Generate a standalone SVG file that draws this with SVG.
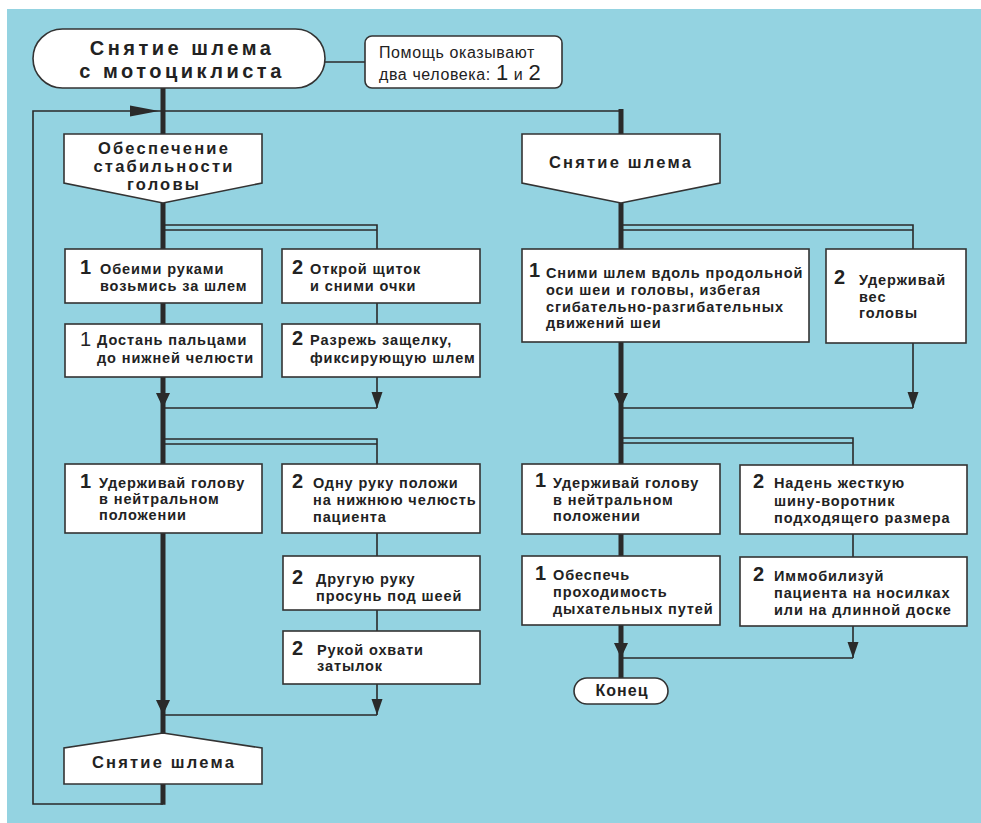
<svg xmlns="http://www.w3.org/2000/svg" xmlns:xlink="http://www.w3.org/1999/xlink" width="981" height="823" viewBox="0 0 981 823">
<defs>
<style>
.bg{fill:#94d3e1}
.box{fill:#fff;stroke:#333;stroke-width:1.6}
.thick{stroke:#2a2a2a;stroke-width:5;fill:none}
.thin{stroke:#2a2a2a;stroke-width:1.6;fill:none}
.ah{fill:#2a2a2a}
text{font-family:"Liberation Sans",Arial,sans-serif;fill:#222}
.t{font-size:14.5px;font-weight:bold;letter-spacing:0.9px}
.n{font-size:20px;font-weight:bold}
.nr{font-size:20px;font-weight:normal}
.h{font-size:16.5px;font-weight:bold;letter-spacing:2.2px;text-anchor:middle}
.ttl{font-size:20px;font-weight:bold;letter-spacing:3.5px;text-anchor:middle}
.note{font-size:16px;font-weight:normal;letter-spacing:0.6px}
.noteb{font-size:22px;font-weight:normal}
</style>
<path id="at" d="M-7,-15 L7,-15 L0,0 Z"/>
<path id="an" d="M-5.5,-16 L5.5,-16 L0,0 Z"/>
</defs>
<rect class="bg" x="7" y="9" width="974" height="814"/>

<g id="connectors">
<path class="thin" d="M163,804 H33 V111 H621"/>
<polygon class="ah" points="130,105.5 159,111 130,116.5"/>
<path class="thick" d="M163,88 V134 M163,203 V733 M163,784 V804.8"/>
<path class="thick" d="M621,109 V134 M621,203 V678"/>
<path class="thin" d="M325,62 H365"/>
<path class="thin" d="M163,225 H377 V408 M163,230 H377 M163,408 H377"/>
<path class="thin" d="M163,439 H377 V715 M163,444 H377 M163,715 H377"/>
<path class="thin" d="M621,225 H913 V408 M621,230 H913 M621,408 H913"/>
<path class="thin" d="M621,438 H853 V658 M621,443 H853 M621,658 H853"/>
<use xlink:href="#at" href="#at" class="ah" x="163" y="408"/>
<use xlink:href="#at" href="#at" class="ah" x="163" y="715"/>
<use xlink:href="#at" href="#at" class="ah" x="621" y="408"/>
<use xlink:href="#at" href="#at" class="ah" x="621" y="658"/>
<use xlink:href="#an" href="#an" class="ah" x="377" y="408"/>
<use xlink:href="#an" href="#an" class="ah" x="377" y="715"/>
<use xlink:href="#an" href="#an" class="ah" x="913" y="408"/>
<use xlink:href="#an" href="#an" class="ah" x="853" y="658"/>
</g>

<g id="start">
<rect class="box" x="33" y="29" width="292" height="59" rx="29.5"/>
<text class="ttl" x="182" y="55">Снятие шлема</text>
<text class="ttl" x="182" y="78">с мотоциклиста</text>
</g>

<g id="note">
<rect class="box" x="365" y="36" width="197" height="52" rx="7"/>
<text class="note" x="379" y="58">Помощь оказывают</text>
<text class="note" x="379" y="80">два человека: <tspan class="noteb">1</tspan> и <tspan class="noteb">2</tspan></text>
</g>

<g id="stab">
<polygon class="box" points="64,134 262,134 262,183 163,203 64,183"/>
<text class="h" x="164" y="154">Обеспечение</text>
<text class="h" x="164" y="172">стабильности</text>
<text class="h" x="164" y="190">головы</text>
</g>

<g id="remove-r">
<polygon class="box" points="522,134 720,134 720,183 621,203 522,183"/>
<text class="h" x="621" y="168">Снятие шлема</text>
</g>

<g id="a1">
<rect class="box" x="65" y="249" width="197" height="54"/>
<text class="n" x="80" y="274">1</text>
<text class="t" x="100" y="274">Обеими руками</text>
<text class="t" x="100" y="291">возьмись за шлем</text>
</g>

<g id="b1">
<rect class="box" x="282" y="249" width="198" height="54"/>
<text class="n" x="292" y="274">2</text>
<text class="t" x="310" y="274">Открой щиток</text>
<text class="t" x="310" y="291">и сними очки</text>
</g>

<g id="a2">
<rect class="box" x="65" y="324" width="197" height="53"/>
<text class="nr" x="80" y="346">1</text>
<text class="t" x="97" y="345">Достань пальцами</text>
<text class="t" x="97" y="363">до нижней челюсти</text>
</g>

<g id="b2">
<rect class="box" x="282" y="324" width="198" height="53"/>
<text class="n" x="292" y="345">2</text>
<text class="t" x="310" y="345">Разрежь защелку,</text>
<text class="t" x="310" y="363">фиксирующую шлем</text>
</g>

<g id="a3">
<rect class="box" x="65" y="464" width="197" height="69"/>
<text class="n" x="80" y="488">1</text>
<text class="t" x="99" y="488">Удерживай голову</text>
<text class="t" x="99" y="504">в нейтральном</text>
<text class="t" x="99" y="520">положении</text>
</g>

<g id="b3">
<rect class="box" x="282" y="464" width="198" height="69"/>
<text class="n" x="292" y="488">2</text>
<text class="t" x="313" y="488">Одну руку положи</text>
<text class="t" x="313" y="505">на нижнюю челюсть</text>
<text class="t" x="313" y="522">пациента</text>
</g>

<g id="b4">
<rect class="box" x="283" y="556" width="197" height="54"/>
<text class="n" x="292" y="584">2</text>
<text class="t" x="316" y="584">Другую руку</text>
<text class="t" x="316" y="601">просунь под шеей</text>
</g>

<g id="b5">
<rect class="box" x="283" y="631" width="197" height="53"/>
<text class="n" x="292" y="655">2</text>
<text class="t" x="317" y="655">Рукой охвати</text>
<text class="t" x="317" y="671">затылок</text>
</g>

<g id="remove-l">
<polygon class="box" points="163,733 262,748 262,784 64,784 64,748"/>
<text class="h" x="164" y="768">Снятие шлема</text>
</g>

<g id="c1">
<rect class="box" x="522" y="249" width="287" height="93"/>
<text class="n" x="529" y="277">1</text>
<text class="t" x="546" y="278">Сними шлем вдоль продольной</text>
<text class="t" x="546" y="295">оси шеи и головы, избегая</text>
<text class="t" x="546" y="312">сгибательно-разгибательных</text>
<text class="t" x="546" y="328">движений шеи</text>
</g>

<g id="d1">
<rect class="box" x="826" y="249" width="140" height="94"/>
<text class="n" x="834" y="284">2</text>
<text class="t" x="859" y="285">Удерживай</text>
<text class="t" x="859" y="302">вес</text>
<text class="t" x="859" y="318">головы</text>
</g>

<g id="c2">
<rect class="box" x="522" y="464" width="198" height="70"/>
<text class="n" x="535" y="487">1</text>
<text class="t" x="553" y="488">Удерживай голову</text>
<text class="t" x="553" y="505">в нейтральном</text>
<text class="t" x="553" y="521">положении</text>
</g>

<g id="d2">
<rect class="box" x="740" y="465" width="227" height="69"/>
<text class="n" x="753" y="488">2</text>
<text class="t" x="774" y="488">Надень жесткую</text>
<text class="t" x="774" y="506">шину-воротник</text>
<text class="t" x="774" y="523">подходящего размера</text>
</g>

<g id="c3">
<rect class="box" x="522" y="556" width="198" height="69"/>
<text class="n" x="535" y="580">1</text>
<text class="t" x="553" y="580">Обеспечь</text>
<text class="t" x="553" y="597">проходимость</text>
<text class="t" x="553" y="614">дыхательных путей</text>
</g>

<g id="d3">
<rect class="box" x="740" y="557" width="227" height="69"/>
<text class="n" x="753" y="581">2</text>
<text class="t" x="774" y="581">Иммобилизуй</text>
<text class="t" x="774" y="598">пациента на носилках</text>
<text class="t" x="774" y="615">или на длинной доске</text>
</g>

<g id="end">
<rect class="box" x="574" y="678" width="94" height="26" rx="13"/>
<text class="h" x="622" y="696" style="font-size:16px;letter-spacing:1px">Конец</text>
</g>
</svg>
